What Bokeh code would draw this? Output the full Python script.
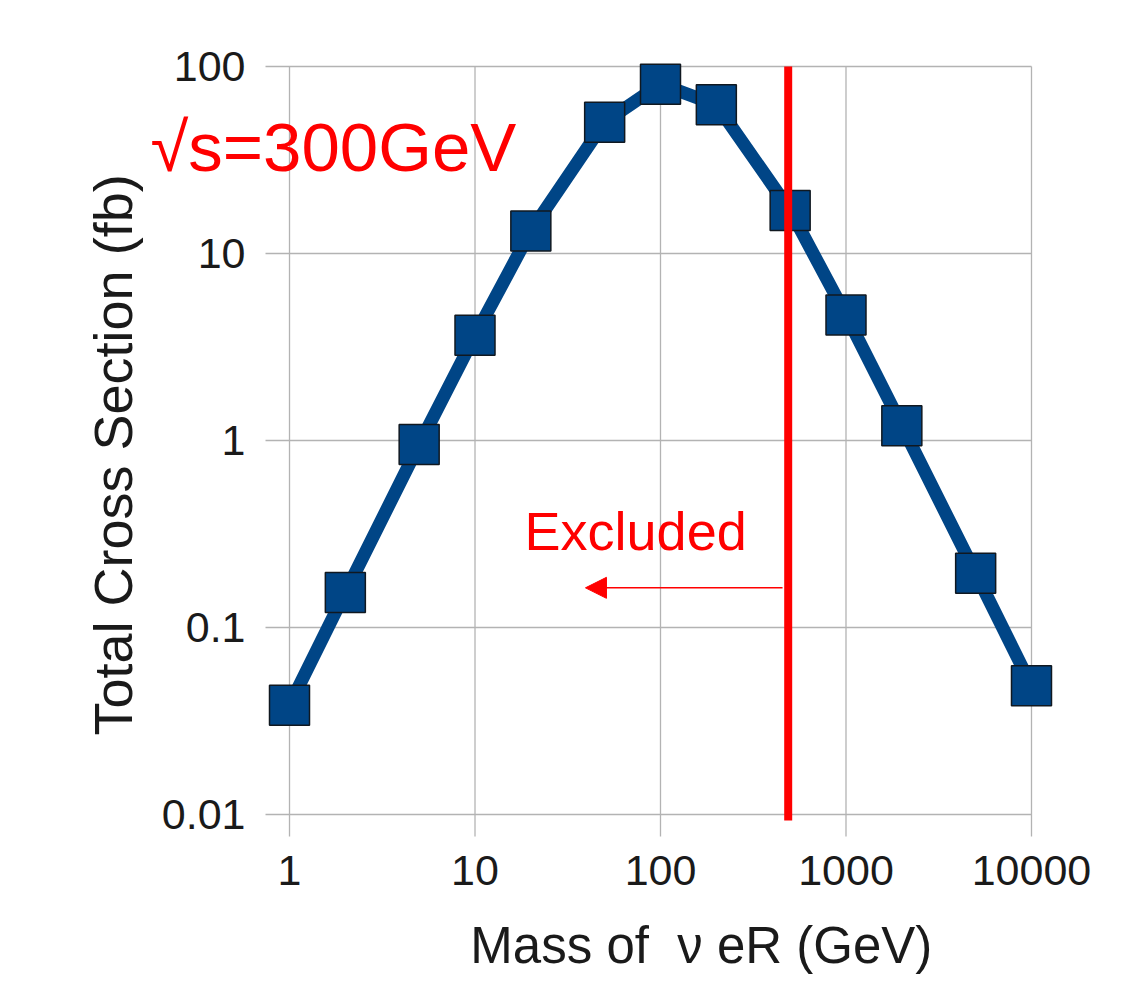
import math
from bokeh.plotting import figure
from bokeh.models import FixedTicker, Arrow, NormalHead, Label
from bokeh.embed import file_html
from bokeh.resources import INLINE

# ---- data ----
mass = [1, 2, 5, 10, 20, 50, 100, 200, 500, 1000, 2000, 5000, 10000]
xsec = [0.0384, 0.154, 0.952, 3.65, 13.2, 50.4, 80.4, 62.4, 17.0, 4.69, 1.2, 0.195, 0.0488]

x_ticks = [1, 10, 100, 1000, 10000]
x_tick_labels = ["1", "10", "100", "1000", "10000"]
y_ticks = [0.01, 0.1, 1, 10, 100]
y_tick_labels = ["0.01", "0.1", "1", "10", "100"]

excl_mass = 488
excl_line_bottom = 0.0093
arrow_from = 455
arrow_to = 39.4
arrow_y = 0.163

BLUE = "#004586"
GREY = "#b3b3b3"
TXT = "#1a1a1a"
RED = "#ff0000"

W, H = 1134, 983
# log-range limits chosen so that the data area spans the whole canvas
X_LO, X_HI = 10 ** -1.558, 10 ** 4.5553
Y_LO, Y_HI = 10 ** -2.9037, 10 ** 2.3529
# where the grid stubs (tick marks) end outside the decade box
X_STUB = 10 ** -0.1294
Y_STUB = 10 ** -2.1176

p = figure(width=W, height=H, x_axis_type="log", y_axis_type="log",
           x_range=(X_LO, X_HI), y_range=(Y_LO, Y_HI),
           output_backend="svg", toolbar_location=None,
           min_border_left=0, min_border_right=0,
           min_border_top=0, min_border_bottom=0)

p.background_fill_color = "white"
p.border_fill_color = "white"
p.outline_line_color = None
p.grid.visible = False

p.xaxis.fixed_location = y_ticks[0]
p.yaxis.fixed_location = x_ticks[0]
p.xaxis.ticker = FixedTicker(ticks=x_ticks)
p.yaxis.ticker = FixedTicker(ticks=y_ticks)
p.xaxis.major_label_overrides = {t: l for t, l in zip(x_ticks, x_tick_labels)}
p.yaxis.major_label_overrides = {t: l for t, l in zip(y_ticks, y_tick_labels)}

for ax in (p.xaxis, p.yaxis):
    ax.axis_line_color = None
    ax.major_tick_line_color = None
    ax.major_tick_in = 0
    ax.minor_tick_line_color = None
    ax.major_label_text_font = "Liberation Sans"
    ax.major_label_text_font_size = "43px"
    ax.major_label_text_color = TXT

p.xaxis.major_tick_out = 22
p.yaxis.major_tick_out = 24
p.xaxis.major_label_standoff = 19
p.yaxis.major_label_standoff = 20

# grid lines (with their stubs outside the decade box acting as ticks)
p.segment(x0=[X_STUB] * len(y_ticks), y0=y_ticks, x1=[x_ticks[-1]] * len(y_ticks), y1=y_ticks,
          line_color=GREY, line_width=1.3)
p.segment(x0=x_ticks, y0=[Y_STUB] * len(x_ticks), x1=x_ticks, y1=[y_ticks[-1]] * len(x_ticks),
          line_color=GREY, line_width=1.3)

p.line(mass, xsec, line_color=BLUE, line_width=13, line_join="round")
p.scatter(mass, xsec, marker="square", size=40, fill_color=BLUE,
          line_color="#101820", line_width=1.5)

p.segment(x0=[excl_mass], y0=[y_ticks[-1]], x1=[excl_mass], y1=[excl_line_bottom],
          line_color=RED, line_width=8)

p.add_layout(Arrow(end=NormalHead(size=21, fill_color=RED, line_color=RED),
                   x_start=arrow_from, y_start=arrow_y, x_end=arrow_to, y_end=arrow_y,
                   line_color=RED, line_width=1.5))

p.add_layout(Label(x=18.5, y=0.327, text="Excluded", text_color=RED,
                   text_font="Liberation Sans", text_font_size="54px",
                   text_baseline="middle"))

p.add_layout(Label(x=0.178, y=37.0, text="\u221as=300GeV", text_color=RED,
                   text_font="Liberation Sans", text_font_size="69px",
                   text_baseline="middle"))

# axis titles (placed relative to the decade box, as in the original)
p.add_layout(Label(x=166, y=0.002, text="Mass of\u00a0\u00a0\u03bd\u00a0eR (GeV)",
                   text_color=TXT, text_font="Liberation Sans", text_font_size="51px",
                   text_align="center", text_baseline="middle"))
p.add_layout(Label(x=0.1125, y=0.837, text="Total Cross Section (fb)", angle=math.pi / 2,
                   text_color=TXT, text_font="Liberation Sans", text_font_size="54px",
                   text_align="center", text_baseline="middle"))

open("out.html", "w").write(file_html(p, INLINE))
